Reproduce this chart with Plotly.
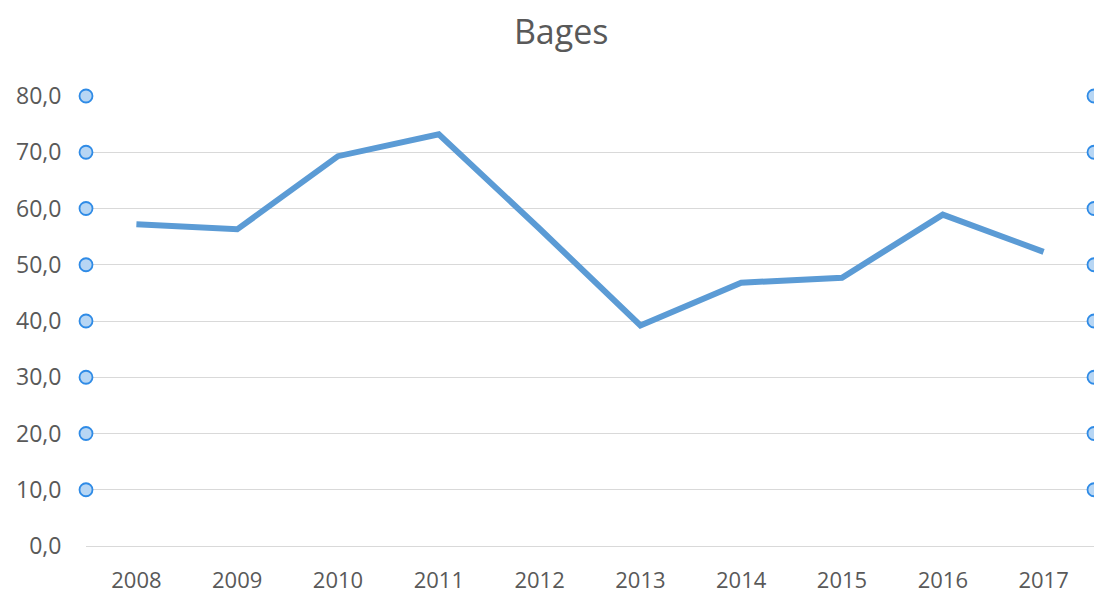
import plotly.graph_objects as go

years = [2008, 2009, 2010, 2011, 2012, 2013, 2014, 2015, 2016, 2017]
values = [57.2, 56.3, 69.3, 73.2, 56.4, 39.2, 46.8, 47.7, 58.9, 52.3]
tick_vals = [0, 10, 20, 30, 40, 50, 60, 70, 80]
marker_vals = [10, 20, 30, 40, 50, 60, 70, 80]

x_left = years[0] - 0.5
x_right = years[-1] + 0.5

fig = go.Figure()
fig.add_trace(go.Scatter(
    x=years, y=values, mode="lines",
    line=dict(color="#5B9BD5", width=6), showlegend=False, hoverinfo="skip"))

for xe in (x_left, x_right):
    fig.add_trace(go.Scatter(
        x=[xe] * len(marker_vals), y=marker_vals, mode="markers",
        marker=dict(size=13, color="#B7D6F4", line=dict(color="#2F8BE6", width=1.8)),
        cliponaxis=False, showlegend=False, hoverinfo="skip"))

font_family = "Open Sans, Liberation Sans, sans-serif"
fig.update_layout(
    width=1094, height=593,
    margin=dict(l=86, r=0, t=96, b=47),
    paper_bgcolor="white", plot_bgcolor="white",
    separators=",.",
    title=dict(text="Bages", x=0.513, xanchor="center", y=0.946, yanchor="middle",
               font=dict(family=font_family, size=34, color="#595959")),
    font=dict(family=font_family, color="#595959"),
)
fig.update_xaxes(
    range=[x_left, x_right], tickmode="array", tickvals=years,
    ticktext=[str(y) for y in years], automargin=False,
    showgrid=False, zeroline=False, showline=False,
    ticks="outside", ticklen=15, tickcolor="rgba(0,0,0,0)",
    tickfont=dict(size=22, color="#595959"))
fig.update_yaxes(
    range=[0, 80], tickmode="array", tickvals=tick_vals, tickformat=".1f",
    automargin=False,
    showgrid=True, gridcolor="#D9D9D9", gridwidth=1.3,
    zeroline=True, zerolinecolor="#D9D9D9", zerolinewidth=1.3, showline=False,
    ticks="outside", ticklen=19, tickcolor="rgba(0,0,0,0)",
    tickfont=dict(size=23, color="#595959"))

fig.write_html("out.html", config={"displayModeBar": False},
               post_script="document.body.style.margin='0';")
